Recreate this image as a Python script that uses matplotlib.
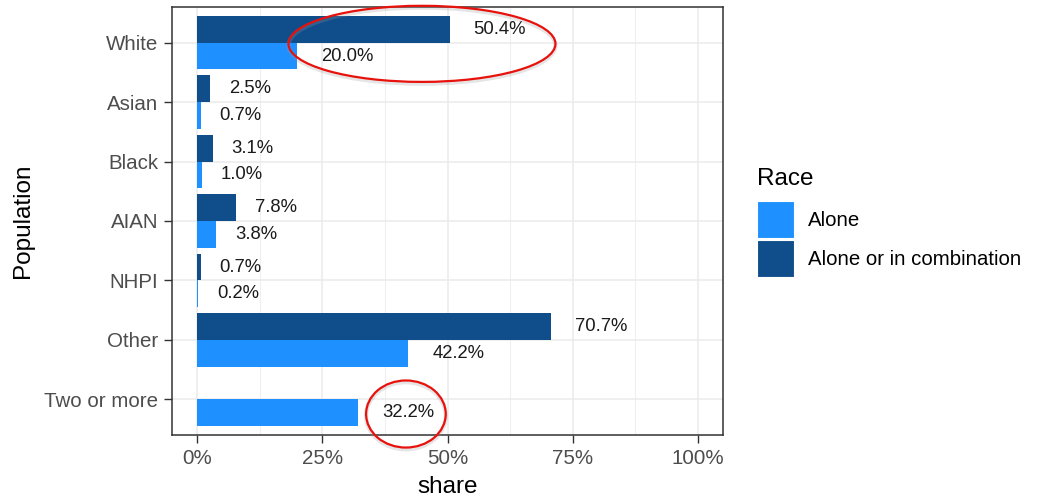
import matplotlib
matplotlib.use("Agg")
import matplotlib.pyplot as plt
from matplotlib.patches import Ellipse, Patch
from matplotlib.ticker import FixedLocator, PercentFormatter
import numpy as np

plt.rcParams["font.family"] = ["Liberation Sans", "DejaVu Sans"]

categories = ["White", "Asian", "Black", "AIAN", "NHPI", "Other", "Two or more"]
alone = [0.200, 0.007, 0.010, 0.038, 0.002, 0.422, 0.322]
combo = [0.504, 0.025, 0.031, 0.078, 0.007, 0.707, np.nan]
series_names = ["Alone", "Alone or in combination"]
colors = ["#1E90FF", "#104E8B"]

W, H = 1038, 497
fig = plt.figure(figsize=(W / 100, H / 100), dpi=100)
ax = fig.add_axes([172 / W, 1 - 435 / H, (723 - 172) / W, (435 - 7) / H])

y = np.arange(len(categories))
bh = 0.45
ax.barh(y + bh / 2, alone, height=bh, color=colors[0], zorder=3)
ax.barh(y - bh / 2, combo, height=bh, color=colors[1], zorder=3)

for vals, off in ((alone, bh / 2), (combo, -bh / 2)):
    for yi, v in zip(y, vals):
        if np.isnan(v):
            continue
        lab = f"{v * 100:.1f}%"
        shift = 0.08 if len(lab) == 4 else 0.1
        ax.text(v + shift, yi + off, lab, ha="center", va="center",
                fontsize=13.3, color="#1a1a1a", zorder=4)

ax.set_xlim(-0.05, 1.05)
ax.set_ylim(len(categories) - 0.4, -0.6)
ax.set_yticks(y)
ax.set_yticklabels(categories)
ax.set_xticks([0, 0.25, 0.5, 0.75, 1.0])
ax.xaxis.set_major_formatter(PercentFormatter(1.0, decimals=0))
ax.xaxis.set_minor_locator(FixedLocator([0.125, 0.375, 0.625, 0.875]))

ax.grid(True, which="major", color="#EBEBEB", lw=1.1, zorder=0)
ax.grid(True, which="minor", axis="x", color="#EFEFEF", lw=0.8, zorder=0)
ax.set_axisbelow(True)
ax.tick_params(axis="both", which="major", length=5.5, width=1.0, color="#333333",
               labelsize=14.8, labelcolor="#4D4D4D", pad=4.5)
ax.tick_params(which="minor", length=0)
for s in ax.spines.values():
    s.set_color("#333333")
    s.set_linewidth(1.1)

ax.set_xlabel("share", fontsize=17.5, labelpad=5.5)
ax.set_ylabel("Population", fontsize=17.5, labelpad=7.5)

# red highlight ellipses
for cx, cy, w, h in ((0.449, 0.02, 0.533, 1.28), (0.417, 6.247, 0.159, 1.128)):
    ax.add_patch(Ellipse((cx, cy + 0.03), w, h, fill=False, ec="#999999", lw=3,
                         alpha=0.25, clip_on=False, zorder=5))
    ax.add_patch(Ellipse((cx, cy), w, h, fill=False, ec="#E8120C", lw=1.6,
                         clip_on=False, zorder=6))

handles = [Patch(fc=c, ec="white", lw=0.8) for c in colors]
leg = fig.legend(handles, series_names, loc="upper left", bbox_to_anchor=(757 / W, 1 - 168 / H),
                 frameon=False, fontsize=14.7, title="Race", title_fontsize=17.5,
                 handlelength=1.81, handleheight=2.4, labelspacing=0.1,
                 handletextpad=0.68, borderpad=0, borderaxespad=0, alignment="left")
leg._legend_box.sep = 8

fig.savefig("out.png", dpi=100)
